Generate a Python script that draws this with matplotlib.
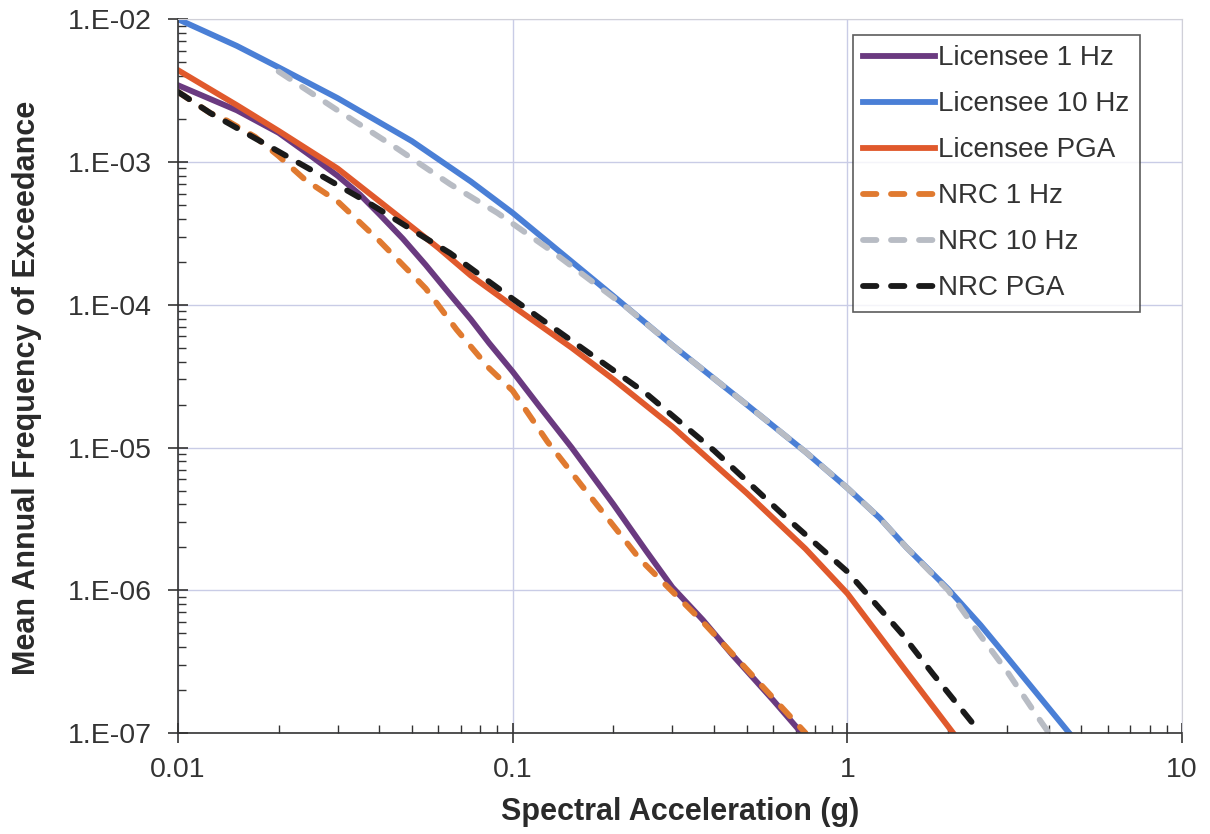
import matplotlib
matplotlib.use("Agg")
import matplotlib.pyplot as plt
from matplotlib.ticker import LogLocator, FuncFormatter, NullFormatter
import numpy as np

plt.rcParams['font.family'] = ['Liberation Sans', 'DejaVu Sans']

# Licensee 1 Hz
lic_1hz_x = [0.01, 0.015, 0.02, 0.025, 0.03, 0.035, 0.04, 0.047, 0.055, 0.065, 0.075, 0.085, 0.1,
             0.12, 0.15, 0.2, 0.25, 0.3, 0.37, 0.45, 0.6, 0.73]
lic_1hz_y = [3.45e-3, 2.3e-3, 1.6e-3, 1.1e-3, 8.0e-4, 5.9e-4, 4.3e-4, 2.9e-4, 1.9e-4, 1.18e-4, 7.9e-5, 5.4e-5, 3.4e-5,
             1.95e-5, 1.0e-5, 4.0e-6, 1.9e-6, 1.05e-6, 6.2e-7, 3.6e-7, 1.7e-7, 1.0e-7]

# Licensee 10 Hz
lic_10hz_x = [0.01, 0.015, 0.02, 0.03, 0.05, 0.075, 0.1, 0.2, 0.3, 0.5, 0.75, 1.0, 1.25, 1.5, 2.0, 2.5, 3.0, 4.6]
lic_10hz_y = [1.0e-2, 6.5e-3, 4.6e-3, 2.8e-3, 1.4e-3, 7.3e-4, 4.4e-4, 1.15e-4, 5.2e-5, 2.0e-5, 9.3e-6, 5.2e-6,
              3.2e-6, 2.0e-6, 1.02e-6, 5.7e-7, 3.4e-7, 1.0e-7]

# Licensee PGA
lic_pga_x = [0.01, 0.015, 0.02, 0.03, 0.04, 0.06, 0.075, 0.1, 0.15, 0.2, 0.3, 0.5, 0.75, 1.0, 1.5, 2.07]
lic_pga_y = [4.4e-3, 2.5e-3, 1.65e-3, 9.0e-4, 5.3e-4, 2.5e-4, 1.6e-4, 9.8e-5, 5.0e-5, 3.0e-5, 1.4e-5, 4.8e-6,
             1.95e-6, 9.5e-7, 2.7e-7, 1.0e-7]

# NRC 1 Hz
nrc_1hz_x = [0.01, 0.0125, 0.014, 0.017, 0.02, 0.024, 0.03, 0.04, 0.055, 0.068, 0.085, 0.1, 0.127, 0.16,
             0.24, 0.3, 0.37, 0.5, 0.75]
nrc_1hz_y = [3.1e-3, 2.2e-3, 1.95e-3, 1.5e-3, 1.1e-3, 7.5e-4, 5.3e-4, 2.8e-4, 1.3e-4, 6.7e-5, 3.6e-5, 2.5e-5,
             1.1e-5, 5.5e-6, 1.65e-6, 9.8e-7, 6.0e-7, 2.8e-7, 1.0e-7]

# NRC 10 Hz
nrc_10hz_x = [0.02, 0.03, 0.045, 0.065, 0.09, 0.13, 0.22, 0.3, 0.5, 0.75, 1.0, 1.25, 1.5, 2.0, 2.5, 3.0, 3.7, 4.0]
nrc_10hz_y = [4.3e-3, 2.3e-3, 1.25e-3, 7.0e-4, 4.4e-4, 2.4e-4, 9.5e-5, 5.2e-5, 2.0e-5, 9.3e-6, 5.2e-6, 3.2e-6,
              2.0e-6, 1.0e-6, 4.8e-7, 2.7e-7, 1.3e-7, 1.0e-7]

# NRC PGA
nrc_pga_x = [0.01, 0.0125, 0.018, 0.025, 0.037, 0.054, 0.065, 0.1, 0.15, 0.25, 0.4, 0.65, 1.0, 1.45, 1.8, 2.5]
nrc_pga_y = [3.1e-3, 2.2e-3, 1.36e-3, 8.8e-4, 5.2e-4, 3.0e-4, 2.3e-4, 1.1e-4, 5.6e-5, 2.4e-5, 9.5e-6, 3.3e-6,
             1.35e-6, 5.0e-7, 2.6e-7, 1.0e-7]

fig = plt.figure(figsize=(12.1, 8.34), dpi=100)
ax = fig.add_axes([0.147, 0.121, 0.830, 0.856])

lw = 4.2
dash = (2.3, 2.5)
ax.plot(lic_1hz_x, lic_1hz_y, color='#6a3a80', lw=lw, label='Licensee 1 Hz')
ax.plot(lic_10hz_x, lic_10hz_y, color='#4a7fd6', lw=lw, label='Licensee 10 Hz')
ax.plot(lic_pga_x, lic_pga_y, color='#e0592c', lw=lw, label='Licensee PGA')
ax.plot(nrc_1hz_x, nrc_1hz_y, color='#e07a30', lw=lw, dashes=dash, dash_capstyle='round', label='NRC 1 Hz')
ax.plot(nrc_10hz_x, nrc_10hz_y, color='#b8bcc4', lw=lw, dashes=dash, dash_capstyle='round', label='NRC 10 Hz')
ax.plot(nrc_pga_x, nrc_pga_y, color='#1a1a1a', lw=lw, dashes=dash, dash_capstyle='round', label='NRC PGA')

ax.set_xscale('log')
ax.set_yscale('log')
ax.set_xlim(0.01, 10)
ax.set_ylim(1e-7, 1e-2)

ax.xaxis.set_major_locator(LogLocator(base=10, numticks=10))
ax.xaxis.set_minor_locator(LogLocator(base=10, subs=np.arange(2, 10), numticks=20))
ax.yaxis.set_major_locator(LogLocator(base=10, numticks=10))
ax.yaxis.set_minor_locator(LogLocator(base=10, subs=np.arange(2, 10), numticks=20))
ax.xaxis.set_minor_formatter(NullFormatter())
ax.yaxis.set_minor_formatter(NullFormatter())
ax.xaxis.set_major_formatter(FuncFormatter(lambda v, p: '%g' % v))
ax.yaxis.set_major_formatter(FuncFormatter(lambda v, p: '1.E-%02d' % int(round(-np.log10(v)))))

ax.grid(True, which='major', color='#c9cce6', lw=1.0)
ax.set_axisbelow(True)
for s in ['top', 'right']:
    ax.spines[s].set_color('#d0d0d8')
for s in ['left', 'bottom']:
    ax.spines[s].set_color('#333333')
    ax.spines[s].set_linewidth(1.2)

ax.tick_params(which='major', direction='inout', length=14, width=1.2, color='#333333',
               labelsize=20.5, labelcolor='#333333', top=False, right=False)
ax.tick_params(axis='x', which='major', pad=10)
ax.tick_params(axis='y', which='major', pad=12)
ax.tick_params(which='minor', direction='in', length=6, width=1.0, color='#333333', top=False, right=False)

ax.set_xlabel('Spectral Acceleration (g)', fontsize=22, fontweight='bold', color='#2a2a2a', labelpad=10)
ax.set_ylabel('Mean Annual Frequency of Exceedance', fontsize=22, fontweight='bold', color='#2a2a2a')
ax.yaxis.set_label_coords(-0.135, 0.483)

leg = ax.legend(loc='upper right', bbox_to_anchor=(0.958, 0.978), fontsize=20, frameon=True,
                fancybox=False, edgecolor='#333333', handlelength=2.6, handletextpad=0.1,
                labelspacing=0.72, borderpad=0.38, borderaxespad=0)
leg.get_frame().set_linewidth(1.2)
for t in leg.get_texts():
    t.set_color('#333333')

fig.savefig('out.png', dpi=100, facecolor='white')
